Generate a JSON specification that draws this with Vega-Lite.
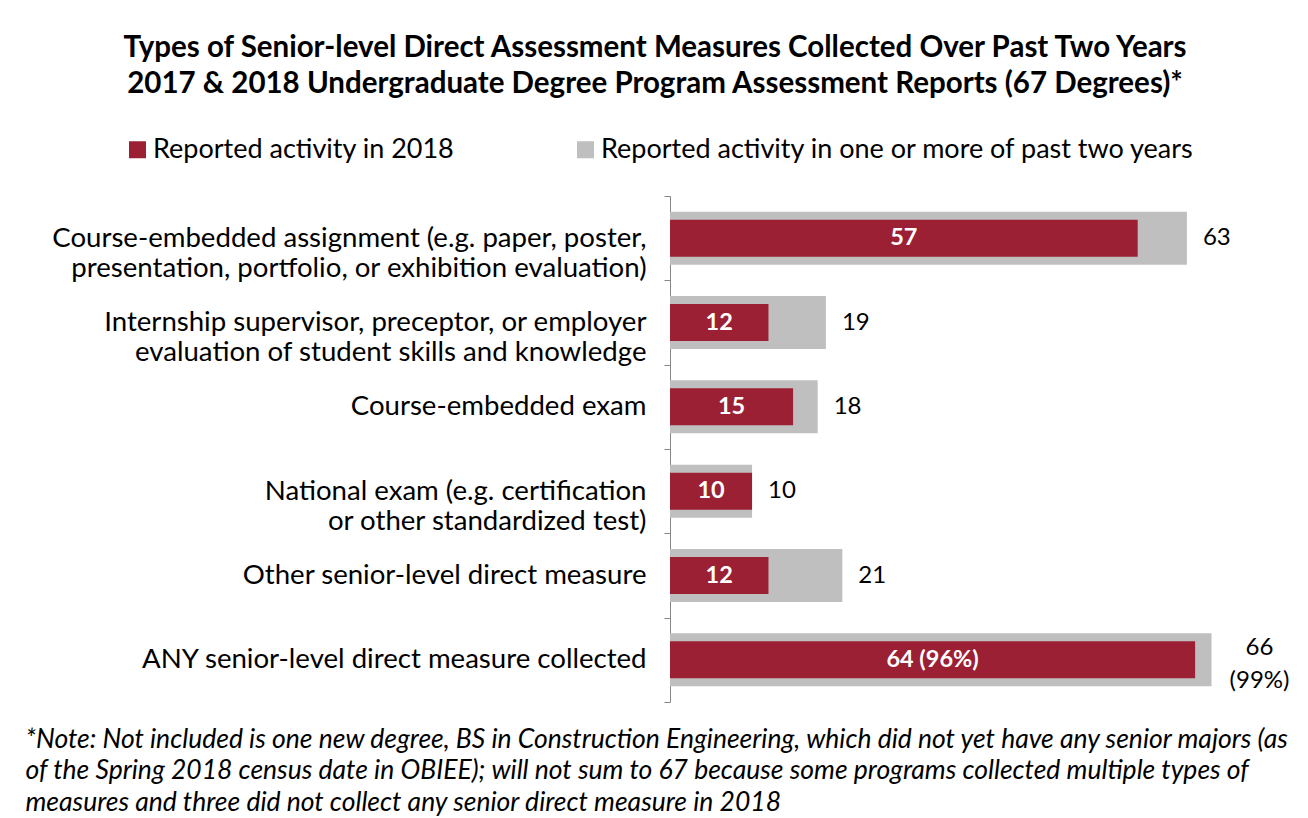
{
  "$schema": "https://vega.github.io/schema/vega-lite/v6.json",
  "width": 640,
  "height": 506,
  "autosize": {"type": "none"},
  "padding": {"left": 670, "top": 196, "right": 0, "bottom": 116},
  "background": "white",
  "config": {"font": "Lato", "view": {"stroke": null}},
  "title": {
    "text": ["Types of Senior-level Direct Assessment Measures Collected Over Past Two Years", "2017 & 2018 Undergraduate Degree Program Assessment Reports (67 Degrees)*"],
    "anchor": "start",
    "align": "center",
    "dx": -15,
    "frame": "group",
    "fontSize": 29.5,
    "fontWeight": "bold",
    "lineHeight": 36,
    "color": "black",
    "offset": 37
  },
  "data": {
    "values": [
      {"cat": "Course-embedded assignment (e.g. paper, poster,|presentation, portfolio, or exhibition evaluation)", "y2018": 57, "past": 63, "l2018": "57", "lpast": "63"},
      {"cat": "Internship supervisor, preceptor, or employer|evaluation of student skills and knowledge", "y2018": 12, "past": 19, "l2018": "12", "lpast": "19"},
      {"cat": "Course-embedded exam", "y2018": 15, "past": 18, "l2018": "15", "lpast": "18"},
      {"cat": "National exam (e.g. certification|or other standardized test)", "y2018": 10, "past": 10, "l2018": "10", "lpast": "10"},
      {"cat": "Other senior-level direct measure", "y2018": 12, "past": 21, "l2018": "12", "lpast": "21"},
      {"cat": "ANY senior-level direct measure collected", "y2018": 64, "past": 66, "l2018": "64 (96%)", "lpast": "66|(99%)"}
    ]
  },
  "encoding": {
    "y": {
      "field": "cat",
      "type": "nominal",
      "sort": null,
      "scale": {"paddingInner": 0, "paddingOuter": 0},
      "axis": {
        "title": null,
        "labelExpr": "split(datum.label, '|')",
        "labelFontSize": 27.6,
        "labelColor": "black",
        "labelLineHeight": 30,
        "labelLimit": 700,
        "labelPadding": 18,
        "tickBand": "extent",
        "tickSize": 6,
        "tickColor": "#868686",
        "domainColor": "#868686"
      }
    }
  },
  "resolve": {"scale": {"x": "independent"}},
  "layer": [
    {
      "mark": {"type": "bar", "size": 53},
      "encoding": {
        "x": {
          "field": "past",
          "type": "quantitative",
          "scale": {"domain": [0, 78], "nice": false},
          "axis": {
            "orient": "bottom",
            "title": ["*Note: Not included is one new degree, BS in Construction Engineering, which did not yet have any senior majors (as", "of the Spring 2018 census date in OBIEE); will not sum to 67 because some programs collected multiple types of", "measures and three did not collect any senior direct measure in 2018"],
            "titleFontStyle": "italic",
            "titleFontWeight": "normal",
            "titleFontSize": 26.5,
            "titleColor": "black",
            "titleLineHeight": 31.5,
            "titleAnchor": "start",
            "titleAlign": "left",
            "titleBaseline": "top",
            "titleX": -645,
            "titleY": 24,
            "domain": false,
            "ticks": false,
            "labels": false,
            "grid": false
          }
        },
        "color": {
          "datum": "Reported activity in one or more of past two years",
          "type": "nominal",
          "scale": {
            "domain": ["Reported activity in 2018", "Reported activity in one or more of past two years"],
            "range": ["#9B2033", "#BFBFBF"]
          },
          "legend": {
            "title": null,
            "orient": "none",
            "legendX": -546,
            "legendY": -60,
            "direction": "horizontal",
            "symbolType": "square",
            "symbolSize": 289,
            "symbolStrokeWidth": 0,
            "labelFontSize": 27,
            "labelColor": "black",
            "labelOffset": 2,
            "columnPadding": 117,
            "labelLimit": 700
          }
        }
      }
    },
    {
      "mark": {"type": "bar", "size": 37},
      "encoding": {
        "x": {"field": "y2018", "type": "quantitative", "scale": {"domain": [0, 78], "nice": false}, "axis": null},
        "color": {"datum": "Reported activity in 2018", "type": "nominal"}
      }
    },
    {
      "mark": {"type": "text", "color": "white", "fontWeight": "bold", "fontSize": 23.5, "baseline": "middle", "align": "center"},
      "encoding": {
        "x": {"field": "y2018", "type": "quantitative", "scale": {"domain": [0, 156], "nice": false}, "axis": null},
        "text": {"field": "l2018"}
      }
    },
    {
      "transform": [{"filter": "datum.y2018 != 64"}],
      "mark": {"type": "text", "color": "black", "fontSize": 24, "align": "left", "dx": 16, "baseline": "middle"},
      "encoding": {
        "x": {"field": "past", "type": "quantitative", "scale": {"domain": [0, 78], "nice": false}, "axis": null},
        "text": {"field": "lpast"}
      }
    },
    {
      "transform": [{"filter": "datum.y2018 == 64"}],
      "mark": {"type": "text", "color": "black", "fontSize": 24, "align": "center", "dx": 48, "dy": -12, "baseline": "middle", "lineBreak": "|", "lineHeight": 33},
      "encoding": {
        "x": {"field": "past", "type": "quantitative", "scale": {"domain": [0, 78], "nice": false}, "axis": null},
        "text": {"field": "lpast"}
      }
    }
  ]
}
